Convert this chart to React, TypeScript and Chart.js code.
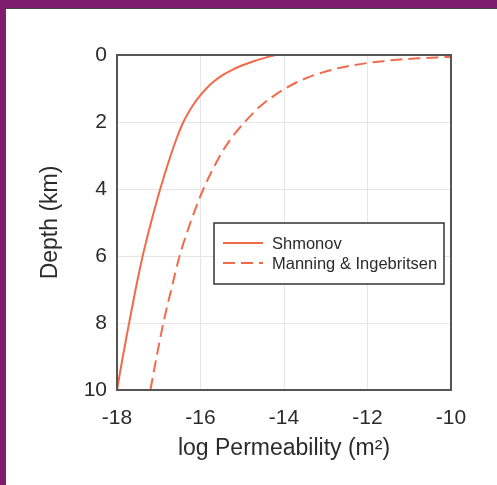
import React, { useEffect, useRef } from "react";
import { Chart, registerables } from "chart.js";

Chart.register(...registerables);

const seriesNames = ["Shmonov", "Manning & Ingebritsen"];
const depthShmonov = [10, 9, 8, 7, 6, 5, 4, 3, 2.5, 2, 1.5, 1.25, 1, 0.8, 0.6, 0.45, 0.3, 0.2, 0.1, 0];
const permShmonov = [-18.0, -17.86, -17.71, -17.555, -17.385, -17.185, -16.965, -16.715, -16.575, -16.41, -16.18, -16.035, -15.86, -15.69, -15.47, -15.25, -14.98, -14.76, -14.5, -14.21];
const depthManning = [10, 9, 8, 7, 6, 5, 4, 3, 2.5, 2, 1.5, 1, 0.8, 0.6, 0.5, 0.4, 0.3, 0.2, 0.15, 0.1, 0.07, 0.056];
const permManning = [-17.2, -17.05, -16.89, -16.7, -16.5, -16.24, -15.93, -15.53, -15.27, -14.94, -14.54, -13.97, -13.67, -13.28, -13.02, -12.72, -12.32, -11.76, -11.36, -10.8, -10.3, -10.0];
const xTicks = [-18, -16, -14, -12, -10];
const yTicks = [0, 2, 4, 6, 8, 10];

const LINE = "#f26a4c";
const FONT = "'Liberation Sans', Arial, sans-serif";
const TEXT = "#2b2b2b";

const framePlugin = {
  id: "frame",
  afterDraw(chart: any) {
    const { ctx, chartArea } = chart;
    ctx.save();
    ctx.strokeStyle = "#555";
    ctx.lineWidth = 2;
    ctx.strokeRect(chartArea.left, chartArea.top, chartArea.right - chartArea.left, chartArea.bottom - chartArea.top);
    // legend
    const bx = 214, by = 223, bw = 230, bh = 61;
    ctx.fillStyle = "#fff";
    ctx.fillRect(bx, by, bw, bh);
    ctx.strokeStyle = "#333";
    ctx.lineWidth = 1.5;
    ctx.strokeRect(bx, by, bw, bh);
    chart.data.datasets.forEach((ds: any, i: number) => {
      const y = 243 + i * 20;
      ctx.strokeStyle = ds.borderColor;
      ctx.lineWidth = ds.borderWidth;
      ctx.setLineDash(ds.borderDash || []);
      ctx.beginPath();
      ctx.moveTo(223, y);
      ctx.lineTo(263, y);
      ctx.stroke();
      ctx.setLineDash([]);
      ctx.fillStyle = TEXT;
      ctx.font = `16.5px ${FONT}`;
      ctx.textBaseline = "middle";
      ctx.textAlign = "left";
      ctx.fillText(ds.label, 272, y + 1);
    });
    ctx.restore();
  },
};

export default function App() {
  const ref = useRef<HTMLCanvasElement>(null);
  useEffect(() => {
    const chart = new Chart(ref.current!, {
      type: "scatter",
      data: {
        datasets: [
          {
            label: seriesNames[0],
            data: permShmonov.map((x, i) => ({ x, y: depthShmonov[i] })),
            showLine: true,
            borderColor: LINE,
            borderWidth: 2,
            pointRadius: 0,
            cubicInterpolationMode: "monotone",
          },
          {
            label: seriesNames[1],
            data: permManning.map((x, i) => ({ x, y: depthManning[i] })),
            showLine: true,
            borderColor: LINE,
            borderWidth: 2,
            borderDash: [12, 6],
            pointRadius: 0,
            cubicInterpolationMode: "monotone",
          },
        ],
      },
      options: {
        animation: false,
        responsive: false,
        layout: { padding: { top: 55, right: 46, left: 0, bottom: 0 } },
        plugins: { legend: { display: false }, tooltip: { enabled: false } },
        scales: {
          x: {
            type: "linear",
            min: -18,
            max: -10,
            afterBuildTicks: (s: any) => { s.ticks = xTicks.map((v) => ({ value: v })); },
            afterFit: (s: any) => { s.height = 95; },
            grid: { color: "#e6e6e6", drawTicks: false },
            border: { display: false },
            ticks: { color: TEXT, font: { family: FONT, size: 21 }, padding: 16 },
            title: { display: true, text: "log Permeability (m²)", color: TEXT, font: { family: FONT, size: 23 }, padding: { top: 0, bottom: 23 } },
          },
          y: {
            type: "linear",
            reverse: true,
            min: 0,
            max: 10,
            afterBuildTicks: (s: any) => { s.ticks = yTicks.map((v) => ({ value: v })); },
            afterFit: (s: any) => { s.width = 117; },
            grid: { color: "#e6e6e6", drawTicks: false },
            border: { display: false },
            ticks: { color: TEXT, font: { family: FONT, size: 21 }, padding: 10 },
            title: { display: true, text: "Depth (km)", color: TEXT, font: { family: FONT, size: 23 }, padding: { top: 37, bottom: 0 } },
          },
        },
      },
      plugins: [framePlugin],
    } as any);
    return () => chart.destroy();
  }, []);
  return (
    <div style={{ position: "fixed", left: 0, top: 0, width: 497, height: 485, background: "#7e1b6c", overflow: "hidden" }}>
      <div style={{ position: "absolute", left: 5, top: 8, width: 497, height: 485, background: "#fff", borderTop: "1px solid #444", borderLeft: "1px solid #444" }} />
      <canvas ref={ref} width={497} height={485} style={{ position: "absolute", left: 0, top: 0, width: 497, height: 485 }} />
    </div>
  );
}
